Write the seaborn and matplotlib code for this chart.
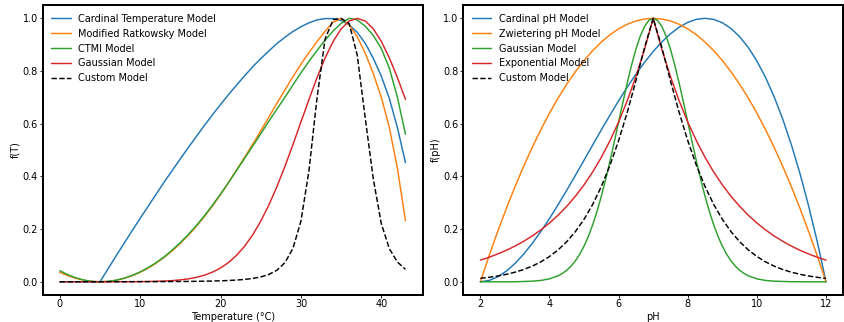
import matplotlib
matplotlib.use("Agg")
import matplotlib.pyplot as plt
import seaborn as sns

# ---------------- data: temperature panel ----------------
temp = [0, 1, 2, 3, 4, 5, 6, 7, 8, 9, 10, 11, 12, 13, 14, 15, 16, 17, 18, 19, 20, 21,
        22, 23, 24, 25, 26, 27, 28, 29, 30, 31, 32, 33, 34, 35, 36, 37, 38, 39, 40, 41, 42, 43]

cardinal_t = [0.0, 0.0, 0.0, 0.0, 0.0, 0.0, 0.049, 0.098, 0.146, 0.194,
              0.241, 0.287, 0.333, 0.379, 0.423, 0.467, 0.51, 0.552, 0.594, 0.634,
              0.673, 0.711, 0.747, 0.782, 0.816, 0.847, 0.876, 0.904, 0.928, 0.95,
              0.968, 0.983, 0.994, 0.999, 0.999, 0.992, 0.975, 0.947, 0.905, 0.848,
              0.78, 0.695, 0.585, 0.452]

ratkowsky_t = [0.036, 0.023, 0.013, 0.0058, 0.0014, 0.0, 0.0014, 0.0058, 0.013, 0.023,
               0.036, 0.052, 0.071, 0.093, 0.118, 0.146, 0.177, 0.211, 0.248, 0.288,
               0.331, 0.377, 0.425, 0.473, 0.522, 0.573, 0.625, 0.677, 0.728, 0.778,
               0.826, 0.87, 0.912, 0.951, 0.985, 0.999, 0.975, 0.93, 0.867, 0.79,
               0.70, 0.585, 0.43, 0.232]

ctmi_t = [0.042, 0.027, 0.015, 0.0065, 0.0016, 0.0, 0.0015, 0.006, 0.0135, 0.024,
          0.0375, 0.054, 0.073, 0.095, 0.121, 0.149, 0.18, 0.214, 0.251, 0.291,
          0.333, 0.377, 0.423, 0.469, 0.515, 0.562, 0.609, 0.655, 0.70, 0.747,
          0.793, 0.837, 0.878, 0.917, 0.952, 0.981, 1.0, 0.994, 0.97, 0.935,
          0.885, 0.81, 0.70, 0.56]

gauss_t = [0.0, 0.0, 0.0, 0.0, 0.0, 0.0, 0.0001, 0.0001, 0.0002, 0.0003,
           0.0006, 0.001, 0.0017, 0.0028, 0.0045, 0.0072, 0.0111, 0.0169, 0.0251, 0.0367,
           0.0524, 0.0734, 0.1007, 0.1353, 0.1783, 0.2301, 0.2909, 0.3604, 0.4376, 0.5205,
           0.6065, 0.6926, 0.7748, 0.8494, 0.9122, 0.96, 0.9899, 1.0, 0.9899, 0.96,
           0.9122, 0.8494, 0.7748, 0.6926]

custom_t = [0.0001, 0.0001, 0.0002, 0.0002, 0.0002, 0.0002, 0.0003, 0.0003, 0.0003, 0.0004,
            0.0005, 0.0006, 0.0007, 0.0008, 0.001, 0.0012, 0.0014, 0.0018, 0.0022, 0.0029,
            0.0037, 0.0049, 0.0065, 0.009, 0.0126, 0.0184, 0.0278, 0.0437, 0.0724, 0.1263,
            0.2307, 0.4227, 0.6983, 0.9213, 0.9947, 1.0, 0.98, 0.86, 0.62, 0.39,
            0.22, 0.125, 0.075, 0.047]

# ---------------- data: pH panel ----------------
ph = [2.0, 2.25, 2.5, 2.75, 3.0, 3.25, 3.5, 3.75, 4.0, 4.25, 4.5, 4.75, 5.0, 5.25, 5.5, 5.75,
      6.0, 6.25, 6.5, 6.75, 7.0, 7.25, 7.5, 7.75, 8.0, 8.25, 8.5, 8.75, 9.0, 9.25, 9.5, 9.75,
      10.0, 10.25, 10.5, 10.75, 11.0, 11.25, 11.5, 11.75, 12.0]

cardinal_ph = [0.0, 0.0048, 0.0185, 0.0403, 0.0692, 0.1045, 0.1453, 0.1908, 0.2402, 0.2927,
               0.3475, 0.4041, 0.4615, 0.5192, 0.5765, 0.6326, 0.6869, 0.7389, 0.7878, 0.8331,
               0.8741, 0.9104, 0.9412, 0.9662, 0.9846, 0.9961, 1.0, 0.9959, 0.9833, 0.9616,
               0.9305, 0.8895, 0.838, 0.7756, 0.702, 0.6167, 0.5192, 0.4092, 0.2863, 0.15, 0.0]

zwietering_ph = [0.0, 0.0975, 0.19, 0.2775, 0.36, 0.4375, 0.51, 0.5775, 0.64, 0.6975,
                 0.75, 0.7975, 0.84, 0.8775, 0.91, 0.9375, 0.96, 0.9775, 0.99, 0.9975,
                 1.0, 0.9975, 0.99, 0.9775, 0.96, 0.9375, 0.91, 0.8775, 0.84, 0.7975,
                 0.75, 0.6975, 0.64, 0.5775, 0.51, 0.4375, 0.36, 0.2775, 0.19, 0.0975, 0.0]

# the Gaussian pH curve is read on a finer grid around its narrow peak
ph_gauss = [2.0, 2.5, 3.0, 3.5, 3.75, 4.0, 4.25, 4.375, 4.5, 4.625, 4.75, 4.875,
            5.0, 5.125, 5.25, 5.375, 5.5, 5.625, 5.75, 5.875, 6.0, 6.125, 6.25, 6.375,
            6.5, 6.625, 6.75, 6.875, 7.0, 7.125, 7.25, 7.375, 7.5, 7.625, 7.75, 7.875,
            8.0, 8.125, 8.25, 8.375, 8.5, 8.625, 8.75, 8.875, 9.0, 9.125, 9.25, 9.375,
            9.5, 9.625, 9.75, 10.0, 10.25, 10.5, 11.0, 11.5, 12.0]

gauss_ph = [0.0, 0.0, 0.0, 0.0022, 0.0051, 0.0111, 0.0228, 0.0319, 0.0439, 0.0596, 0.0796, 0.1046,
            0.1353, 0.1724, 0.2163, 0.2671, 0.3247, 0.3886, 0.4578, 0.5311, 0.6065, 0.682, 0.7548, 0.8226,
            0.8825, 0.9321, 0.9692, 0.9922, 1.0, 0.9922, 0.9692, 0.9321, 0.8825, 0.8226, 0.7548, 0.682,
            0.6065, 0.5311, 0.4578, 0.3886, 0.3247, 0.2671, 0.2163, 0.1724, 0.1353, 0.1046, 0.0796, 0.0596,
            0.0439, 0.0319, 0.0228, 0.0111, 0.0051, 0.0022, 0.0003, 0.0, 0.0]

exp_ph = [0.0821, 0.093, 0.1054, 0.1194, 0.1353, 0.1534, 0.1738, 0.1969, 0.2231, 0.2528,
          0.2865, 0.3247, 0.3679, 0.4169, 0.4724, 0.5353, 0.6065, 0.6873, 0.7788, 0.8825,
          1.0, 0.8825, 0.7788, 0.6873, 0.6065, 0.5353, 0.4724, 0.4169, 0.3679, 0.3247,
          0.2865, 0.2528, 0.2231, 0.1969, 0.1738, 0.1534, 0.1353, 0.1194, 0.1054, 0.093, 0.0821]

custom_ph = [0.013, 0.0169, 0.0219, 0.0282, 0.0363, 0.0465, 0.0594, 0.0756, 0.0959, 0.1211,
             0.1523, 0.1905, 0.2372, 0.2938, 0.3616, 0.442, 0.5358, 0.6433, 0.7629, 0.8892,
             1.0, 0.8892, 0.7629, 0.6433, 0.5358, 0.442, 0.3616, 0.2938, 0.2372, 0.1905,
             0.1523, 0.1211, 0.0959, 0.0756, 0.0594, 0.0465, 0.0363, 0.0282, 0.0219, 0.0169, 0.013]

temp_labels = ["Cardinal Temperature Model", "Modified Ratkowsky Model", "CTMI Model",
               "Gaussian Model", "Custom Model"]
ph_labels = ["Cardinal pH Model", "Zwietering pH Model", "Gaussian Model",
             "Exponential Model", "Custom Model"]
colors = ["#1f77b4", "#ff7f0e", "#2ca02c", "#d62728", "black"]

# ---------------- style ----------------
sns.set_style("ticks")
FS = 7.0
plt.rcParams.update({
    "font.family": ["DejaVu Sans"],
    "font.size": FS,
    "axes.labelsize": FS,
    "xtick.labelsize": FS,
    "ytick.labelsize": FS,
    "legend.fontsize": FS,
    "axes.edgecolor": "black",
    "axes.linewidth": 1.45,
    "xtick.color": "black",
    "ytick.color": "black",
    "axes.labelcolor": "black",
    "text.color": "black",
    "xtick.major.size": 2.3,
    "ytick.major.size": 2.3,
    "xtick.major.width": 0.6,
    "ytick.major.width": 0.6,
    "xtick.major.pad": 0.9,
    "ytick.major.pad": 0.9,
    "axes.labelpad": 2.0,
    "xtick.direction": "out",
    "ytick.direction": "out",
})

LW = 1.05
fig, (ax1, ax2) = plt.subplots(1, 2, figsize=(8.45, 3.22), dpi=100)
fig.subplots_adjust(left=0.0503, right=0.998, bottom=0.084, top=0.984, wspace=0.106)

t_series = [cardinal_t, ratkowsky_t, ctmi_t, gauss_t, custom_t]
for ys, lab, col in zip(t_series, temp_labels, colors):
    ls = "--" if lab == "Custom Model" else "-"
    sns.lineplot(x=temp, y=ys, ax=ax1, color=col, linestyle=ls, linewidth=LW, label=lab)

p_x = [ph, ph, ph_gauss, ph, ph]
p_series = [cardinal_ph, zwietering_ph, gauss_ph, exp_ph, custom_ph]
for xs, ys, lab, col in zip(p_x, p_series, ph_labels, colors):
    ls = "--" if lab == "Custom Model" else "-"
    sns.lineplot(x=xs, y=ys, ax=ax2, color=col, linestyle=ls, linewidth=LW, label=lab)

ax1.set_xlabel("Temperature (°C)")
ax1.set_ylabel("f(T)")
ax2.set_xlabel("pH")
ax2.set_ylabel("f(pH)")

for ax in (ax1, ax2):
    ax.margins(x=0.05, y=0.05)
    ax.set_yticks([0.0, 0.2, 0.4, 0.6, 0.8, 1.0])
    ax.legend(loc="upper left", frameon=False)
    for sp in ax.spines.values():
        sp.set_visible(True)
        sp.set_color("black")
        sp.set_linewidth(1.45)

ax1.set_xticks([0, 10, 20, 30, 40])
ax2.set_xticks([2, 4, 6, 8, 10, 12])

fig.savefig("out.png", dpi=100)
